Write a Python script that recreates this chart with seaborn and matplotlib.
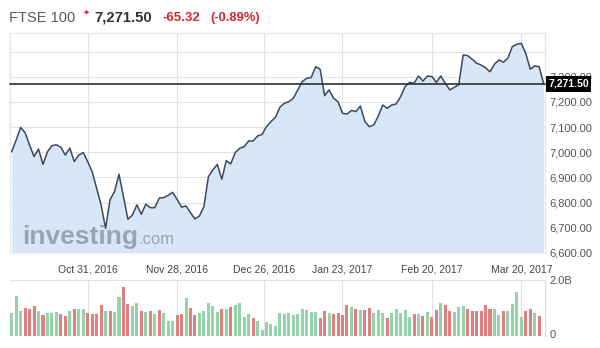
import numpy as np
import pandas as pd
import matplotlib
matplotlib.use("Agg")
import matplotlib.pyplot as plt
import matplotlib.transforms as mtransforms
import seaborn as sns

# ---------------- data ----------------
start_date = "2016-10-06"
end_date = "2017-03-27"
uk_holidays = ["2016-12-26", "2016-12-27", "2017-01-02"]

price = [7002, 7049, 7099, 7078, 7029, 6983, 7013, 6952, 7002, 7026,
         7030, 7020, 6989, 7017, 6963, 6989, 6999, 6963, 6923, 6857,
         6791, 6698, 6811, 6844, 6913, 6824, 6734, 6751, 6791, 6754,
         6794, 6780, 6780, 6818, 6820, 6829, 6841, 6813, 6782, 6787,
         6760, 6735, 6747, 6784, 6903, 6930, 6952, 6893, 6967, 6954,
         6999, 7016, 7022, 7045, 7045, 7065, 7071, 7102, 7122, 7139,
         7179, 7195, 7201, 7215, 7248, 7281, 7294, 7297, 7340, 7330,
         7225, 7248, 7215, 7201, 7155, 7152, 7166, 7162, 7184, 7122,
         7102, 7109, 7144, 7188, 7175, 7188, 7192, 7221, 7261, 7278,
         7274, 7303, 7283, 7303, 7301, 7278, 7303, 7274, 7248, 7258,
         7268, 7387, 7384, 7370, 7354, 7347, 7336, 7320, 7350, 7367,
         7358, 7374, 7420, 7429, 7433, 7393, 7330, 7343, 7340, 7271.5]

volume_b = [0.82, 1.42, 0.89, 1.00, 0.96, 1.07, 0.89, 0.76, 0.82, 0.82,
            0.86, 0.80, 0.70, 0.89, 0.98, 0.98, 0.98, 0.83, 0.80, 0.80,
            1.11, 0.89, 0.89, 0.86, 1.39, 1.75, 1.14, 1.06, 1.17, 0.89,
            0.86, 0.89, 0.79, 0.93, 0.81, 0.54, 0.54, 0.74, 0.79, 1.36,
            1.01, 0.74, 0.83, 0.89, 1.18, 1.07, 0.87, 0.96, 0.96, 1.04,
            1.10, 1.18, 0.68, 0.77, 0.65, 0.54, 0.21, 0.49, 0.43, 0.36,
            0.82, 0.80, 0.82, 0.74, 0.77, 0.98, 0.93, 0.86, 0.86, 0.65,
            0.89, 0.83, 0.80, 0.82, 0.76, 1.10, 1.04, 0.96, 0.92, 0.92,
            1.00, 0.82, 0.92, 0.82, 0.65, 0.82, 0.95, 0.82, 0.92, 0.69,
            0.79, 0.77, 0.71, 0.85, 0.69, 0.93, 1.19, 1.10, 0.88, 0.86,
            1.02, 1.06, 0.98, 0.88, 0.89, 0.89, 1.10, 0.98, 0.98, 0.74,
            0.89, 0.89, 1.13, 1.57, 0.68, 0.89, 0.98, 0.82, 0.70, 0.0]

direction = list("GGGRRRGRGGGRRGRGGRRRRGRGGRRGGRGRGRGGGRRGRRGGGGGRGRGGGGRGGGGG"
                 "GGGGGGGGGRRGRRRRGRGRRGGGRGGGGGRGRGRRGRRGGGRRRRRRGGRGGGGRRGRG")

tick_dates = ["2016-10-31", "2016-11-28", "2016-12-26", "2017-01-23", "2017-02-20", "2017-03-20"]
tick_labels = ["Oct 31, 2016", "Nov 28, 2016", "Dec 26, 2016", "Jan 23, 2017", "Feb 20, 2017", "Mar 20, 2017"]
price_ticks = [6600, 6700, 6800, 6900, 7000, 7100, 7200, 7300, 7400]

last_price = 7271.50
title_name = "FTSE 100"
title_price = "7,271.50"
title_change = "-65.32"
title_pct = "(-0.89%)"

# ---------------- frames ----------------
dates = pd.bdate_range(start_date, end_date, freq="C", holidays=uk_holidays)
n = len(price)
df = pd.DataFrame({"i": np.arange(n), "date": dates[:n], "price": price})
vdf = pd.DataFrame({"i": np.arange(n), "vol": volume_b[:n], "dir": direction[:n]})

tick_pos = []
for d in pd.to_datetime(tick_dates):
    k = int(np.searchsorted(df["date"].values, np.datetime64(d)))
    tick_pos.append(k if (k < n and df["date"].iloc[k] == d) else k - 0.5)

# ---------------- style ----------------
sns.set_style("white")
plt.rcParams["font.family"] = ["Liberation Sans", "DejaVu Sans"]

W, H = 600, 348
fig = plt.figure(figsize=(W / 100, H / 100), dpi=100)


def rect(x0, y0, x1, y1):
    return [x0 / W, 1 - y1 / H, (x1 - x0) / W, (y1 - y0) / H]


grid_c = "#e3e3e3"
line_c = "#3a4860"
fill_c = "#d3e5f8"
green_c = "#93d4ab"
red_c = "#e27f7f"
lab_c = "#555555"
xlim = (-0.38, 119.3)

# ---------------- price panel ----------------
ax = fig.add_axes(rect(10, 33, 545, 253))
ax.fill_between(df["i"], df["price"], 6600, color=fill_c, lw=0, zorder=1, alpha=0.9)
sns.lineplot(data=df, x="i", y="price", ax=ax, color=line_c, lw=1.1, zorder=3)
ax.set_xlim(*xlim)
ax.set_ylim(6600, 7474)
ax.set_yticks(price_ticks)
ax.set_yticklabels(["" if v == 7400 else f"{v:,.2f}" for v in price_ticks])
ax.yaxis.tick_right()
ax.set_xticks(tick_pos)
ax.set_xticklabels(tick_labels)
ax.tick_params(axis="y", length=0, pad=3, labelsize=8, labelcolor=lab_c)
ax.tick_params(axis="x", length=0, pad=8, labelsize=7.5, labelcolor="#444444")
ax.grid(True, color=grid_c, lw=0.8, zorder=0)
ax.set_axisbelow(True)
ax.set_xlabel("")
ax.set_ylabel("")
for s in ["top", "left", "right"]:
    ax.spines[s].set_color("#e6e6e6")
    ax.spines[s].set_linewidth(0.8)
ax.spines["bottom"].set_visible(False)

ax.axhline(last_price, color="#2e2e2e", lw=1.2, zorder=4, clip_on=False, xmax=1.0)
trans = mtransforms.blended_transform_factory(ax.transAxes, ax.transData)
ax.text(1.006, last_price, title_price, transform=trans, ha="left", va="center",
        fontsize=7.5, fontweight="bold", color="white", zorder=6,
        bbox=dict(boxstyle="square,pad=0.25", fc="black", ec="none"))

# watermark
ax.text(0.022, 0.04, "investing", transform=ax.transAxes, fontsize=19, fontweight="bold",
        color="#8a94a0", alpha=0.8, ha="left", va="baseline", zorder=2)
ax.text(0.24, 0.04, ".com", transform=ax.transAxes, fontsize=12,
        color="#8a94a0", alpha=0.8, ha="left", va="baseline", zorder=2)

# ---------------- volume panel ----------------
axv = fig.add_axes(rect(10, 280, 545, 336))
sns.barplot(data=vdf, x="i", y="vol", hue="dir", palette={"G": green_c, "R": red_c},
            native_scale=True, dodge=False, width=0.68, errorbar=None,
            legend=False, ax=axv, saturation=1, linewidth=0)
axv.set_xlim(*xlim)
axv.set_ylim(0, 2.0)
axv.set_yticks([0.06, 2.0])
axv.set_yticklabels(["0", "2.0B"])
axv.yaxis.tick_right()
axv.set_xticks(tick_pos)
axv.set_xticklabels([])
axv.tick_params(axis="both", length=0)
axv.tick_params(axis="y", pad=3, labelsize=8, labelcolor=lab_c)
axv.grid(True, axis="x", color=grid_c, lw=0.8, zorder=0)
axv.set_axisbelow(True)
axv.set_xlabel("")
axv.set_ylabel("")
for s in ["left", "bottom"]:
    axv.spines[s].set_visible(False)
axv.spines["top"].set_color(grid_c)
axv.spines["right"].set_color("#dcdcdc")

# ---------------- header ----------------
def ftext(x, y, s, **kw):
    fig.text(x / W, 1 - y / H, s, va="center", ha="left", **kw)


ftext(9, 18, title_name, fontsize=10.5, color="#5a5a5a")
ftext(82.5, 12, "\u2726", fontsize=6, color="#e0262a", family=["DejaVu Sans"])
ftext(94, 18, title_price, fontsize=10.7, fontweight="bold", color="#333333")
ftext(162.5, 18, title_change, fontsize=9.5, fontweight="bold", color="#d9262c")
ftext(210, 18, title_pct, fontsize=9.4, fontweight="bold", color="#d9262c")

fig.savefig("out.png", dpi=100)
